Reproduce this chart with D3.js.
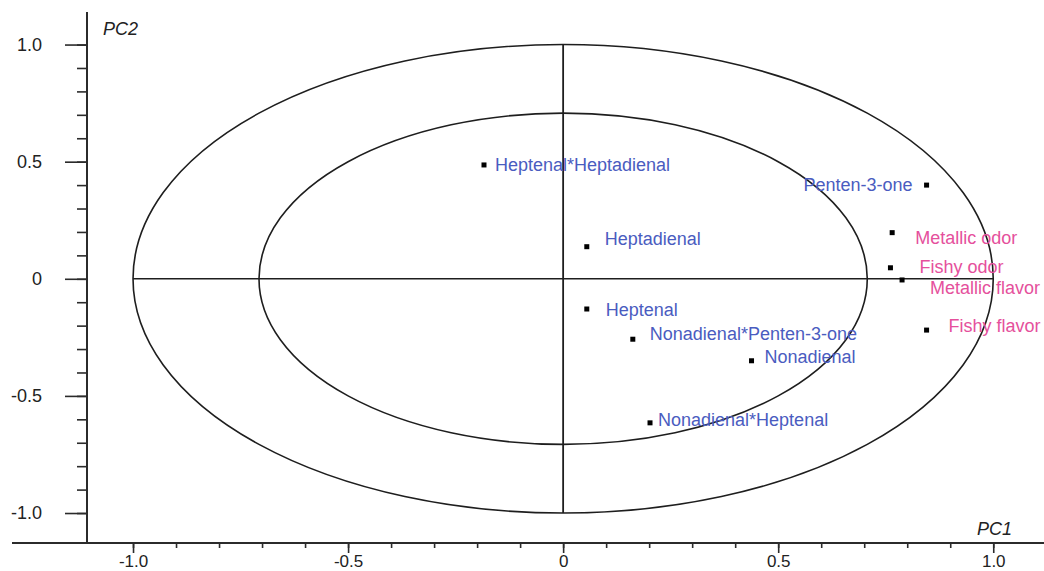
<!DOCTYPE html>
<html>
<head>
<meta charset="utf-8">
<script src="https://cdn.jsdelivr.net/npm/d3@7"></script>
<style>
  html, body { margin: 0; padding: 0; background: #fff; }
  svg { display: block; }
  text { font-family: "Liberation Sans", Arial, sans-serif; }
</style>
</head>
<body>
<svg id="chart" width="1044" height="571"></svg>
<script>
// PCA correlation loadings (PC1 vs PC2)
const sensoryNames = ["Metallic odor", "Fishy odor", "Metallic flavor", "Fishy flavor"];
const sensoryPC1   = [0.765, 0.761, 0.788, 0.845];
const sensoryPC2   = [0.197, 0.047, -0.005, -0.219];

const volatileNames = ["Heptenal*Heptadienal", "Heptadienal", "Penten-3-one", "Heptenal",
                       "Nonadienal*Penten-3-one", "Nonadienal", "Nonadienal*Heptenal"];
const volatilePC1   = [-0.184, 0.055, 0.845, 0.055, 0.162, 0.438, 0.202];
const volatilePC2   = [0.486, 0.137, 0.400, -0.129, -0.258, -0.350, -0.615];

const majorTicks = [-1.0, -0.5, 0, 0.5, 1.0];
const minorTicks = d3.range(-10, 11).map(i => i / 10);
const circleRadii = [1.0, Math.SQRT1_2];   // 100% and 50% explained variance

// label placement (pixel offsets from each point)
const labelPlacement = {
  "Heptenal*Heptadienal":    { dx: 11,  dy: 6,  anchor: "start" },
  "Heptadienal":             { dx: 18,  dy: -2, anchor: "start" },
  "Penten-3-one":            { dx: -14, dy: 6,  anchor: "end" },
  "Heptenal":                { dx: 19,  dy: 7,  anchor: "start" },
  "Nonadienal*Penten-3-one": { dx: 17,  dy: 1,  anchor: "start" },
  "Nonadienal":              { dx: 13,  dy: 2,  anchor: "start" },
  "Nonadienal*Heptenal":     { dx: 8,   dy: 3,  anchor: "start" },
  "Metallic odor":           { dx: 23,  dy: 11, anchor: "start" },
  "Fishy odor":              { dx: 29,  dy: 5,  anchor: "start" },
  "Metallic flavor":         { dx: 28,  dy: 14, anchor: "start" },
  "Fishy flavor":            { dx: 22,  dy: 2,  anchor: "start" }
};

const points = [
  ...volatileNames.map((n, i) => ({ name: n, pc1: volatilePC1[i], pc2: volatilePC2[i], group: "volatile" })),
  ...sensoryNames.map((n, i) => ({ name: n, pc1: sensoryPC1[i], pc2: sensoryPC2[i], group: "sensory" }))
];

const frame = { left: 87, right: 1044, top: 12, bottom: 543 };
const x = d3.scaleLinear().domain([-1.107, 1.118]).range([frame.left, frame.right]);
const y = d3.scaleLinear().domain([-1.128, 1.139]).range([frame.bottom, frame.top]);

const svg = d3.select("#chart");
const axisColor = "#2b2b2b";
const fmt = d => d === 0 ? "0" : d.toFixed(1);

// ---- axes ----
const yMinor = svg.append("g").attr("transform", `translate(${frame.left},0)`)
  .call(d3.axisLeft(y).tickValues(minorTicks).tickSize(10).tickFormat(""));
const yMajor = svg.append("g").attr("transform", `translate(${frame.left},0)`)
  .call(d3.axisLeft(y).tickValues(majorTicks).tickSize(22).tickPadding(23).tickFormat(fmt));
const xMinor = svg.append("g").attr("transform", `translate(0,${frame.bottom})`)
  .call(d3.axisBottom(x).tickValues(minorTicks).tickSize(5).tickFormat(""));
const xMajor = svg.append("g").attr("transform", `translate(0,${frame.bottom})`)
  .call(d3.axisBottom(x).tickValues(majorTicks).tickSize(10).tickPadding(2).tickFormat(fmt));

[yMinor, yMajor, xMinor, xMajor].forEach(g => {
  g.select(".domain").remove();
  g.selectAll(".tick line").attr("stroke", axisColor).attr("stroke-width", 1.6);
  g.selectAll(".tick text").attr("fill", "#222").attr("font-size", 18)
    .attr("font-family", "'Liberation Sans', Arial, sans-serif");
});
xMajor.selectAll(".tick text").attr("font-size", 17);

// axis lines
svg.append("line")
  .attr("x1", frame.left).attr("x2", frame.left)
  .attr("y1", frame.top).attr("y2", frame.bottom)
  .attr("stroke", axisColor).attr("stroke-width", 2);
svg.append("line")
  .attr("x1", frame.left - 75).attr("x2", frame.right)
  .attr("y1", frame.bottom).attr("y2", frame.bottom)
  .attr("stroke", axisColor).attr("stroke-width", 2);

// axis titles
svg.append("text").attr("x", frame.left + 16).attr("y", 35)
  .attr("font-size", 18).attr("font-style", "italic").attr("fill", "#222").text("PC2");
svg.append("text").attr("x", 977).attr("y", 535)
  .attr("font-size", 18).attr("font-style", "italic").attr("fill", "#222").text("PC1");

// ---- correlation circles ----
svg.append("g").selectAll("ellipse").data(circleRadii).join("ellipse")
  .attr("cx", x(0)).attr("cy", y(0))
  .attr("rx", r => x(r) - x(0))
  .attr("ry", r => y(0) - y(r))
  .attr("fill", "none").attr("stroke", "#1e1e1e").attr("stroke-width", 1.6);

// crosshair through the origin
svg.append("line")
  .attr("x1", x(-1)).attr("x2", x(1)).attr("y1", y(0)).attr("y2", y(0))
  .attr("stroke", "#1e1e1e").attr("stroke-width", 1.6);
svg.append("line")
  .attr("x1", x(0)).attr("x2", x(0)).attr("y1", y(1)).attr("y2", y(-1))
  .attr("stroke", "#1e1e1e").attr("stroke-width", 1.8);

// ---- loadings ----
const colors = { volatile: "#4a5cc0", sensory: "#e5509c" };
const pg = svg.append("g");
pg.selectAll("rect").data(points).join("rect")
  .attr("x", d => x(d.pc1) - 2.5).attr("y", d => y(d.pc2) - 2.5)
  .attr("width", 5).attr("height", 5).attr("fill", "#000");
pg.selectAll("text").data(points).join("text")
  .attr("x", d => x(d.pc1) + labelPlacement[d.name].dx)
  .attr("y", d => y(d.pc2) + labelPlacement[d.name].dy)
  .attr("text-anchor", d => labelPlacement[d.name].anchor)
  .attr("font-size", 18)
  .attr("fill", d => colors[d.group])
  .text(d => d.name);
</script>
</body>
</html>
